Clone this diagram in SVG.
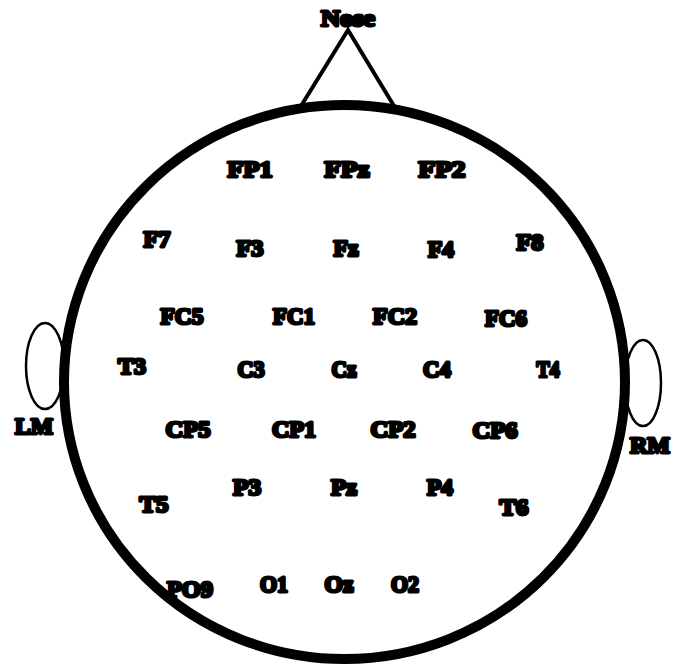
<svg xmlns="http://www.w3.org/2000/svg" width="673" height="669" viewBox="0 0 673 669">
<style>
text{font-family:"Liberation Serif","Times New Roman",serif;font-weight:bold;font-size:23px;fill:#000;stroke:#000;stroke-width:3;stroke-linejoin:round;text-anchor:middle}
.ear{fill:#fff;stroke:#000;stroke-width:2.5}
</style>
<rect width="673" height="669" fill="#fff"/>
<g id="ears">
<ellipse class="ear" cx="45" cy="366" rx="19" ry="43"/>
<ellipse class="ear" cx="643" cy="383" rx="18" ry="43"/>
</g>
<g id="nose">
<polyline points="301,106 348,30 394,106" fill="none" stroke="#000" stroke-width="4" stroke-linejoin="miter"/>
<text x="348" y="26" textLength="54" lengthAdjust="spacingAndGlyphs">Nose</text>
</g>
<g id="head">
<ellipse cx="344.5" cy="382" rx="280.5" ry="277" fill="none" stroke="#000" stroke-width="10"/>
</g>
<g id="labels">
<text x="250" y="177" textLength="45" lengthAdjust="spacingAndGlyphs">FP1</text>
<text x="347" y="177" textLength="45" lengthAdjust="spacingAndGlyphs">FPz</text>
<text x="442" y="177" textLength="47" lengthAdjust="spacingAndGlyphs">FP2</text>
<text x="157" y="247" textLength="27" lengthAdjust="spacingAndGlyphs">F7</text>
<text x="250" y="256" textLength="27" lengthAdjust="spacingAndGlyphs">F3</text>
<text x="346" y="256" textLength="25" lengthAdjust="spacingAndGlyphs">Fz</text>
<text x="441" y="257" textLength="26" lengthAdjust="spacingAndGlyphs">F4</text>
<text x="530" y="250" textLength="27" lengthAdjust="spacingAndGlyphs">F8</text>
<text x="182" y="324" textLength="43" lengthAdjust="spacingAndGlyphs">FC5</text>
<text x="294" y="324" textLength="42" lengthAdjust="spacingAndGlyphs">FC1</text>
<text x="395" y="324" textLength="44" lengthAdjust="spacingAndGlyphs">FC2</text>
<text x="506" y="326" textLength="42" lengthAdjust="spacingAndGlyphs">FC6</text>
<text x="132" y="374" textLength="28" lengthAdjust="spacingAndGlyphs">T3</text>
<text x="251" y="377" textLength="27" lengthAdjust="spacingAndGlyphs">C3</text>
<text x="344" y="377" textLength="25" lengthAdjust="spacingAndGlyphs">Cz</text>
<text x="437" y="377" textLength="28" lengthAdjust="spacingAndGlyphs">C4</text>
<text x="548" y="377" textLength="23" lengthAdjust="spacingAndGlyphs">T4</text>
<text x="188" y="437" textLength="45" lengthAdjust="spacingAndGlyphs">CP5</text>
<text x="294" y="437" textLength="44" lengthAdjust="spacingAndGlyphs">CP1</text>
<text x="393" y="437" textLength="45" lengthAdjust="spacingAndGlyphs">CP2</text>
<text x="495" y="438" textLength="45" lengthAdjust="spacingAndGlyphs">CP6</text>
<text x="154" y="512" textLength="29" lengthAdjust="spacingAndGlyphs">T5</text>
<text x="247" y="495" textLength="28" lengthAdjust="spacingAndGlyphs">P3</text>
<text x="344" y="495" textLength="26" lengthAdjust="spacingAndGlyphs">Pz</text>
<text x="440" y="495" textLength="26" lengthAdjust="spacingAndGlyphs">P4</text>
<text x="514" y="515" textLength="29" lengthAdjust="spacingAndGlyphs">T6</text>
<text x="190" y="597" textLength="46" lengthAdjust="spacingAndGlyphs">PO9</text>
<text x="274" y="592" textLength="28" lengthAdjust="spacingAndGlyphs">O1</text>
<text x="339" y="592" textLength="29" lengthAdjust="spacingAndGlyphs">Oz</text>
<text x="405" y="592" textLength="28" lengthAdjust="spacingAndGlyphs">O2</text>
<text x="34" y="434" textLength="38" lengthAdjust="spacingAndGlyphs">LM</text>
<text x="650" y="453" textLength="40" lengthAdjust="spacingAndGlyphs">RM</text>
</g>
</svg>
